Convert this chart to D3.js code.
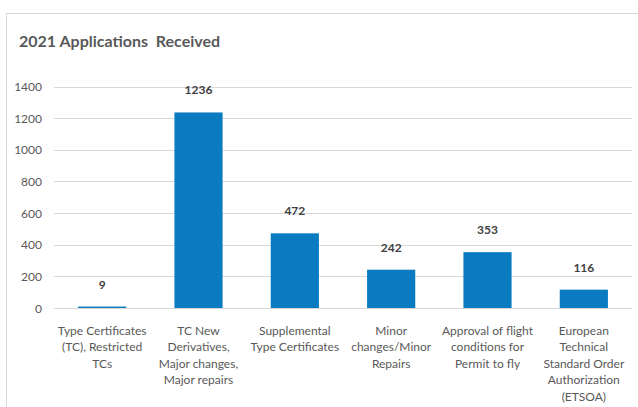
<!DOCTYPE html>
<html><head><meta charset="utf-8">
<script src="https://cdn.jsdelivr.net/npm/d3@7"></script>
<style>
html,body{margin:0;padding:0;background:#fff;}
svg{display:block;}
text{font-family:Lato, "Open Sans", sans-serif;}
</style></head>
<body>
<script>
const title = "2021 Applications\u00A0 Received";
const categories = [
  ["Type Certificates","(TC), Restricted","TCs"],
  ["TC New","Derivatives,","Major changes,","Major repairs"],
  ["Supplemental","Type Certificates"],
  ["Minor","changes/Minor","Repairs"],
  ["Approval of flight","conditions for","Permit to fly"],
  ["European","Technical","Standard Order","Authorization","(ETSOA)"]
];
const values = [9, 1236, 472, 242, 353, 116];
const yTicks = [0, 200, 400, 600, 800, 1000, 1200, 1400];

const W = 638, H = 407;
const svg = d3.select("body").append("svg").attr("width", W).attr("height", H);

// chart border
svg.append("rect").attr("x", 6.5).attr("y", 13.5).attr("width", 640).attr("height", 420)
  .attr("fill", "#fff").attr("stroke", "#d9d9d9").attr("stroke-width", 1);

svg.append("text").attr("x", 19).attr("y", 47)
  .attr("font-size", 16).attr("font-weight", "bold").attr("fill", "#595959")
  .text(title);

const plot = {left: 54, right: 632, top: 86.5, bottom: 308};
const x = d3.scaleBand().domain(d3.range(values.length))
  .range([plot.left, plot.right]).paddingInner(0.5).paddingOuter(0.25);
const y = d3.scaleLinear().domain([0, 1400]).range([plot.bottom, plot.top]);

// gridlines
svg.append("g").selectAll("line").data(yTicks).join("line")
  .attr("x1", plot.left).attr("x2", plot.right)
  .attr("y1", d => Math.round(y(d)) + 0.5).attr("y2", d => Math.round(y(d)) + 0.5)
  .attr("stroke", "#d9d9d9").attr("stroke-width", 1);

// y axis labels
svg.append("g").selectAll("text").data(yTicks).join("text")
  .attr("x", 42).attr("y", d => y(d) + 4.5)
  .attr("text-anchor", "end").attr("font-size", 12).attr("fill", "#595959")
  .text(d => d);

// bars
svg.append("g").selectAll("rect").data(values).join("rect")
  .attr("x", (d, i) => x(i)).attr("width", x.bandwidth())
  .attr("y", d => y(d)).attr("height", d => y(0) - y(d))
  .attr("fill", "#0b7bc1");

// value labels
svg.append("g").selectAll("text").data(values).join("text")
  .attr("x", (d, i) => x(i) + x.bandwidth() / 2)
  .attr("y", d => y(d) - 18)
  .attr("text-anchor", "middle").attr("font-size", 12).attr("font-weight", "bold")
  .attr("fill", "#404040")
  .text(d => d);

// category labels
const cat = svg.append("g").selectAll("text").data(categories).join("text")
  .attr("text-anchor", "middle").attr("font-size", 12).attr("fill", "#595959");
cat.each(function(lines, i) {
  const t = d3.select(this);
  lines.forEach((ln, j) => {
    t.append("tspan").attr("x", x(i) + x.bandwidth() / 2).attr("y", 334.5 + j * 16.6).text(ln);
  });
});
</script>
</body></html>
